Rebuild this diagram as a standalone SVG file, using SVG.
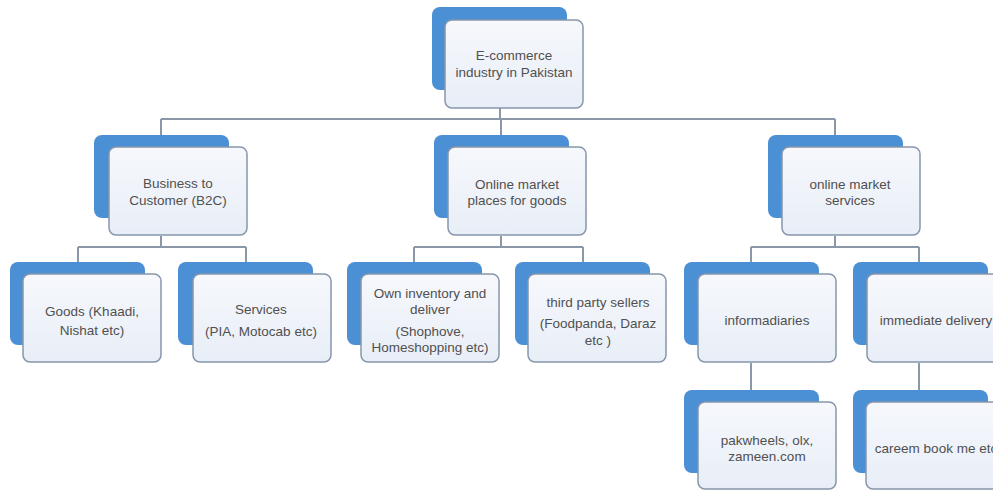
<svg xmlns="http://www.w3.org/2000/svg" width="993" height="492" viewBox="0 0 993 492">
<defs>
<linearGradient id="fg" x1="0" y1="0" x2="0" y2="1">
<stop offset="0" stop-color="#f6f8fc"/>
<stop offset="1" stop-color="#e8eef7"/>
</linearGradient>
<style>
.back{fill:#4b8fd5}
.front{fill:url(#fg);stroke:#8796ab;stroke-width:1.5}
.t{font-family:"Liberation Sans",Arial,sans-serif;font-size:13.5px;fill:#505050;text-anchor:middle}
.c{fill:none;stroke:#8a97a8;stroke-width:2}
</style>
</defs>
<rect width="993" height="492" fill="#ffffff"/>
<g id="connectors">
<path class="c" d="M500 108V119M161 119H835M161 119V135M501 119V135M835 119V135"/>
<path class="c" d="M161 236V247M78 247H246M78 247V262M246 247V262"/>
<path class="c" d="M501 236V247M414 247H583M414 247V262M583 247V262"/>
<path class="c" d="M835 236V247M751 247H919M751 247V262M919 247V262"/>
<path class="c" d="M751 363V390M919 363V390"/>
</g>
<g id="n-root">
<rect class="back" x="432" y="7" width="135" height="83" rx="8"/>
<rect class="front" x="445" y="20" width="138" height="88" rx="7"/>
<text class="t" x="514" y="60">E-commerce</text>
<text class="t" x="514" y="77">industry in Pakistan</text>
</g>
<g id="n-b2c">
<rect class="back" x="94" y="135" width="135" height="83" rx="8"/>
<rect class="front" x="109" y="147" width="138" height="88" rx="7"/>
<text class="t" x="178" y="188">Business to</text>
<text class="t" x="178" y="205">Customer (B2C)</text>
</g>
<g id="n-marketplaces">
<rect class="back" x="434" y="135" width="135" height="83" rx="8"/>
<rect class="front" x="448" y="147" width="138" height="88" rx="7"/>
<text class="t" x="517" y="188.5">Online market</text>
<text class="t" x="517" y="204.5">places for goods</text>
</g>
<g id="n-services">
<rect class="back" x="768" y="135" width="135" height="83" rx="8"/>
<rect class="front" x="782" y="147" width="138" height="88" rx="7"/>
<text class="t" x="850" y="188.5">online market</text>
<text class="t" x="850" y="204.5">services</text>
</g>
<g id="n-goods">
<rect class="back" x="10" y="262" width="135" height="83" rx="8"/>
<rect class="front" x="23" y="274" width="138" height="88" rx="7"/>
<text class="t" x="92" y="315.5">Goods (Khaadi,</text>
<text class="t" x="92" y="334.5">Nishat etc)</text>
</g>
<g id="n-serv">
<rect class="back" x="178" y="262" width="135" height="83" rx="8"/>
<rect class="front" x="193" y="274" width="138" height="88" rx="7"/>
<text class="t" x="261" y="313.5">Services</text>
<text class="t" x="261" y="335.5">(PIA, Motocab etc)</text>
</g>
<g id="n-own">
<rect class="back" x="347" y="262" width="135" height="83" rx="8"/>
<rect class="front" x="361" y="274" width="138" height="88" rx="7"/>
<text class="t" x="430" y="297.5">Own inventory and</text>
<text class="t" x="430" y="313.5">deliver</text>
<text class="t" x="430" y="335.5">(Shophove,</text>
<text class="t" x="430" y="351.5">Homeshopping etc)</text>
</g>
<g id="n-third">
<rect class="back" x="515" y="262" width="135" height="83" rx="8"/>
<rect class="front" x="528" y="274" width="138" height="88" rx="7"/>
<text class="t" x="598" y="306.5">third party sellers</text>
<text class="t" x="598" y="327.5">(Foodpanda, Daraz</text>
<text class="t" x="598" y="344.5">etc )</text>
</g>
<g id="n-inform">
<rect class="back" x="684" y="262" width="135" height="83" rx="8"/>
<rect class="front" x="698" y="274" width="138" height="88" rx="7"/>
<text class="t" x="767" y="324.5">informadiaries</text>
</g>
<g id="n-immediate">
<rect class="back" x="853" y="262" width="135" height="83" rx="8"/>
<rect class="front" x="867" y="274" width="138" height="88" rx="7"/>
<text class="t" x="936" y="324.5">immediate delivery</text>
</g>
<g id="n-pak">
<rect class="back" x="684" y="390" width="135" height="83" rx="8"/>
<rect class="front" x="698" y="402" width="138" height="87" rx="7"/>
<text class="t" x="767" y="444.5">pakwheels, olx,</text>
<text class="t" x="767" y="460.5">zameen.com</text>
</g>
<g id="n-careem">
<rect class="back" x="853" y="390" width="135" height="83" rx="8"/>
<rect class="front" x="866" y="402" width="138" height="87" rx="7"/>
<text class="t" x="936" y="452.5">careem book me etc</text>
</g>
</svg>
